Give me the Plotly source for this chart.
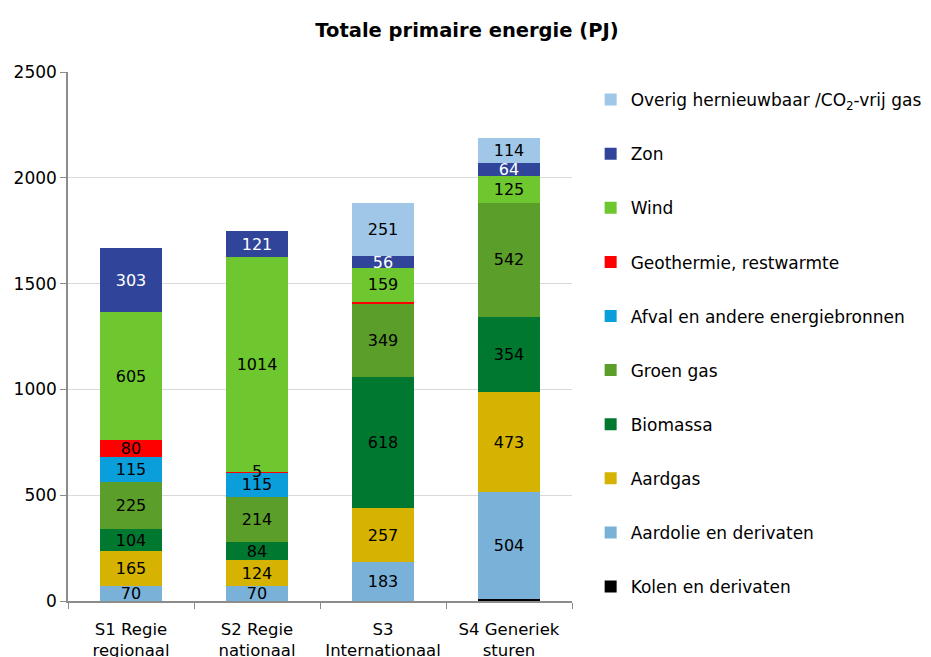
import plotly.graph_objects as go

categories = ["S1 Regie<br>regionaal", "S2 Regie<br>nationaal", "S3<br>Internationaal", "S4 Generiek<br>sturen"]

series_names = [
    "Kolen en derivaten",
    "Aardolie en derivaten",
    "Aardgas",
    "Biomassa",
    "Groen gas",
    "Afval en andere energiebronnen",
    "Geothermie, restwarmte",
    "Wind",
    "Zon",
    "Overig hernieuwbaar /CO<sub>2</sub>-vrij gas",
]

kolen = [0, 0, 0, 10]
aardolie = [70, 70, 183, 504]
aardgas = [165, 124, 257, 473]
biomassa = [104, 84, 618, 354]
groen_gas = [225, 214, 349, 542]
afval = [115, 115, 0, 0]
geothermie = [80, 5, 8, 0]
wind = [605, 1014, 159, 125]
zon = [303, 121, 56, 64]
overig = [0, 0, 251, 114]

# which labels are shown (tiny slivers are left unlabeled; S2 geothermie drawn on top)
kolen_labels = ["", "", "", ""]
geothermie_labels = ["80", "", "", ""]
geothermie_top_label_idx = 1

colors = ["#000000", "#7AB1D8", "#D5B300", "#01782F", "#5B9E29",
          "#0A9FDA", "#FF0000", "#6EC72E", "#30459A", "#A0C6E8"]
text_colors = ["white", "black", "black", "black", "black",
               "black", "black", "black", "white", "black"]

values = [kolen, aardolie, aardgas, biomassa, groen_gas, afval, geothermie, wind, zon, overig]

FONT = "DejaVu Sans"

fig = go.Figure()
for i, (name, vals) in enumerate(zip(series_names, values)):
    if i == 0:
        txt = kolen_labels
    elif i == 6:
        txt = geothermie_labels
    else:
        txt = [str(v) if v > 0 else "" for v in vals]
    fig.add_trace(go.Bar(
        x=categories, y=vals, name=name,
        marker=dict(color=colors[i], line=dict(width=0)),
        text=txt, textposition="inside", textangle=0,
        insidetextanchor="middle",
        insidetextfont=dict(color=text_colors[i], size=16, family=FONT),
        legendgroup=str(i), legendrank=100 - i,
        hoverinfo="y+name",
    ))

# small geothermie label for S2, drawn above the stacked bars
k = geothermie_top_label_idx
base = sum(v[k] for v in values[:6])
fig.add_annotation(x=categories[k], y=base + geothermie[k] / 2,
                   text=str(geothermie[k]), showarrow=False,
                   font=dict(size=16, family=FONT, color="black"),
                   yshift=1)

fig.update_layout(
    barmode="stack",
    bargap=0.51,
    width=931, height=657,
    margin=dict(l=60, r=362, t=64, b=64),
    paper_bgcolor="white", plot_bgcolor="white",
    font=dict(family=FONT, size=16, color="black"),
    title=dict(text="<b>Totale primaire energie (PJ)</b>", x=0.493, xanchor="center",
               y=0.9665, yanchor="middle", font=dict(size=19.5, family=FONT)),
    uniformtext=dict(minsize=16, mode="show"),
    legend=dict(x=1.037, y=0.981, xanchor="left", yanchor="top",
                traceorder="grouped", tracegroupgap=29,
                font=dict(size=17, family=FONT), bgcolor="rgba(0,0,0,0)",
                itemwidth=30),
    showlegend=True,
)
fig.update_yaxes(range=[0, 2500], tickvals=[0, 500, 1000, 1500, 2000, 2500],
                 showgrid=True, gridcolor="#D9D9D9", gridwidth=1,
                 showline=True, linecolor="#8C8C8C", linewidth=1.5,
                 ticks="outside", ticklen=6, tickcolor="#8C8C8C",
                 tickfont=dict(size=17), zeroline=False, fixedrange=True,
                 automargin=False)
fig.update_xaxes(showline=True, linecolor="#8C8C8C", linewidth=1.5,
                 ticks="outside", tickson="boundaries", ticklen=6, tickcolor="#8C8C8C",
                 tickfont=dict(size=16.5), ticklabelstandoff=12,
                 fixedrange=True, automargin=False)

fig.write_html("out.html")
